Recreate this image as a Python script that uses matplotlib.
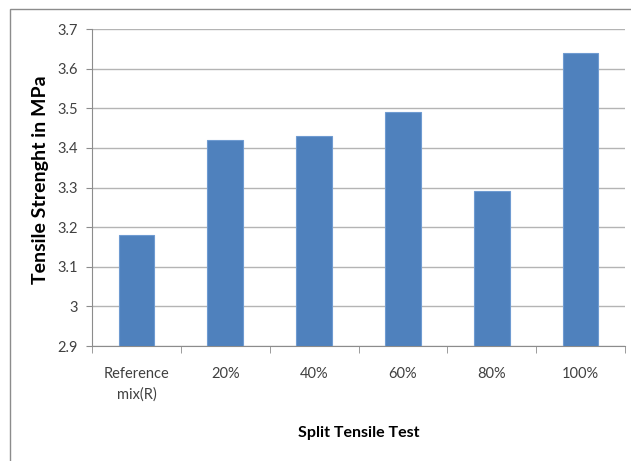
import matplotlib
matplotlib.use("Agg")
import matplotlib.pyplot as plt
from matplotlib.patches import Rectangle

categories = ["Reference\nmix(R)", "20%", "40%", "60%", "80%", "100%"]
values = [3.18, 3.42, 3.43, 3.49, 3.29, 3.64]
yticks = [2.9, 3.0, 3.1, 3.2, 3.3, 3.4, 3.5, 3.6, 3.7]
ytick_labels = ["2.9", "3", "3.1", "3.2", "3.3", "3.4", "3.5", "3.6", "3.7"]

plt.rcParams['font.family'] = ['Lato', 'DejaVu Sans']

W, H = 631, 461
fig = plt.figure(figsize=(W/100, H/100), dpi=100)
fig.patches.append(Rectangle((10/W, -0.1), 1.2, 1 - 9/H + 0.1, transform=fig.transFigure,
                             fill=False, edgecolor="#8c8c8c", linewidth=1.0))

ax = fig.add_axes([92/W, 1 - 346/H, (625-92)/W, (346-29)/H])
x = list(range(len(categories)))
ax.bar(x, values, width=0.4, color="#4F81BD", edgecolor="#6f9bd1", linewidth=0.8, zorder=3)

ax.set_xlim(-0.5, len(categories) - 0.5)
ax.set_ylim(2.9, 3.7)
ax.set_yticks(yticks)
ax.set_yticklabels(ytick_labels, fontsize=10.5, color="#404040")
ax.set_xticks(x)
ax.set_xticklabels(categories, fontsize=10.5, color="#404040", va="top", linespacing=1.6,
                   multialignment="center")
ax.tick_params(axis="x", length=0, pad=15)
ax.set_xticks([i - 0.5 for i in range(len(categories) + 1)], minor=True)
ax.tick_params(axis="x", which="minor", length=5, color="#8c8c8c", direction="out")
ax.tick_params(axis="y", length=4, color="#8c8c8c", pad=6)

ax.grid(axis="y", color="#b4b4b4", linewidth=1.0, zorder=0)
ax.set_axisbelow(True)
for s in ["top", "right"]:
    ax.spines[s].set_visible(False)
ax.spines["left"].set_color("#8c8c8c")
ax.spines["bottom"].set_color("#8c8c8c")

fig.text(358.5/W, 1 - 433/H, "Split Tensile Test", fontsize=11.5, fontweight="bold",
         ha="center", va="center")
fig.text(41/W, 1 - 180/H, "Tensile Strenght in MPa", fontsize=14, fontweight="bold",
         ha="center", va="center", rotation=90)

fig.savefig("out.png", dpi=100)
